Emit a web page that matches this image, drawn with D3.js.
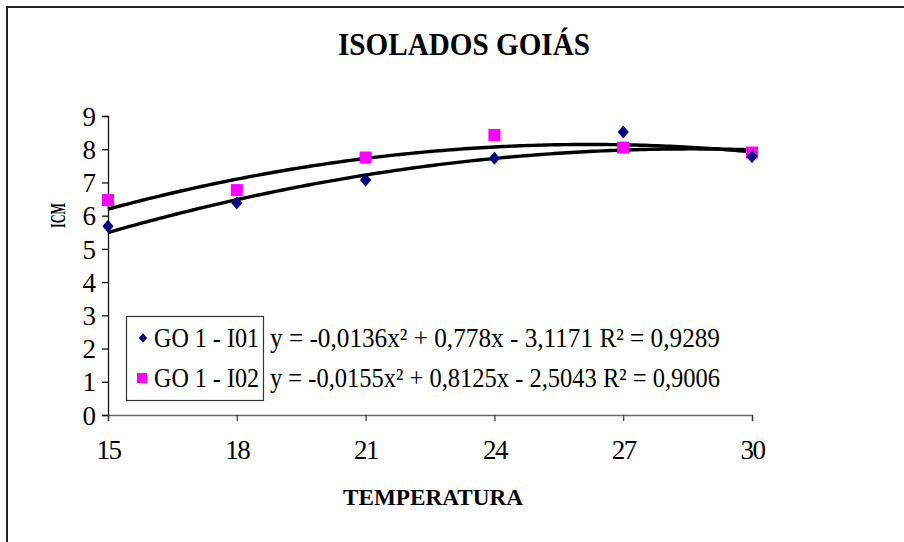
<!DOCTYPE html>
<html>
<head>
<meta charset="utf-8">
<script src="https://cdn.jsdelivr.net/npm/d3@7"></script>
<style>
  html, body { margin: 0; padding: 0; background: #fff; }
  svg text { font-family: "Liberation Serif", "Times New Roman", serif; fill: #000; }
</style>
</head>
<body>
<svg id="chart" width="904" height="542"></svg>
<script>
// Temperatures tested (x values)
const temperatures = [15, 18, 21, 24, 27, 30];
// ICM values per isolate
const seriesNames = ["GO 1 - I01", "GO 1 - I02"];
const icmI01 = [5.68, 6.38, 7.07, 7.73, 8.52, 7.78];
const icmI02 = [6.47, 6.77, 7.75, 8.43, 8.05, 7.9];
// Polynomial trend coefficients [a, b, c] for y = a x² + b x + c, and R²
const trendI01 = [-0.0136, 0.778, -3.1171];
const trendI02 = [-0.0155, 0.8125, -2.5043];
const r2Values = ["0,9289", "0,9006"];
const yTicks = [0, 1, 2, 3, 4, 5, 6, 7, 8, 9];

const svg = d3.select("#chart");

// outer frame (top and left edges visible)
svg.append("path")
  .attr("d", "M7,542 V7 H904")
  .attr("fill", "none").attr("stroke", "#222").attr("stroke-width", 2);

const plot = { left: 108, right: 752, top: 116, bottom: 415 };
const x = d3.scaleLinear().domain([15, 30]).range([plot.left, plot.right]);
const y = d3.scaleLinear().domain([0, 9]).range([plot.bottom, plot.top]);

// Title
svg.append("text")
  .attr("x", 338).attr("y", 55)
  .style("font-size", "31px").style("font-weight", "bold")
  .attr("textLength", 252).attr("lengthAdjust", "spacingAndGlyphs")
  .text("ISOLADOS GOIÁS");

// Y axis
const yAxis = svg.append("g")
  .attr("transform", `translate(${plot.left},0)`)
  .call(d3.axisLeft(y).tickValues(yTicks).tickSize(6).tickPadding(6).tickFormat(d3.format("d")));
yAxis.select(".domain").attr("stroke", "#111").attr("stroke-width", 1.3);
yAxis.selectAll(".tick line").attr("stroke", "#111").attr("stroke-width", 1.3);
yAxis.selectAll(".tick text")
  .style("font-size", "27px").style("font-family", "Liberation Serif").attr("fill", "#000")
  .attr("dy", "0.34em");

// X axis
const xAxis = svg.append("g")
  .attr("transform", `translate(0,${plot.bottom})`)
  .call(d3.axisBottom(x).tickValues(temperatures).tickSize(6).tickPadding(14).tickFormat(d3.format("d")));
xAxis.select(".domain").attr("stroke", "#666").attr("stroke-width", 1.5);
xAxis.selectAll(".tick line").attr("stroke", "#333").attr("stroke-width", 1.2);
xAxis.selectAll(".tick text")
  .style("font-size", "27px").style("font-family", "Liberation Serif").attr("fill", "#000")
  .style("letter-spacing", "-1.5px")
  .attr("dy", "0.9em");

// Axis titles
svg.append("text")
  .attr("x", 343).attr("y", 505)
  .style("font-size", "24px").style("font-weight", "bold")
  .attr("textLength", 180).attr("lengthAdjust", "spacingAndGlyphs")
  .text("TEMPERATURA");

svg.append("text")
  .attr("transform", "translate(65,228) rotate(-90)")
  .style("font-size", "20px").style("font-weight", "bold")
  .attr("textLength", 25).attr("lengthAdjust", "spacingAndGlyphs")
  .text("ICM");

// Trend curves
const poly = c => t => c[0] * t * t + c[1] * t + c[2];
const xs = d3.range(15, 30.001, 0.1);
const line = d3.line().x(d => x(d[0])).y(d => y(d[1]));
[trendI02, trendI01].forEach(c => {
  const f = poly(c);
  svg.append("path")
    .datum(xs.map(t => [t, f(t)]))
    .attr("d", line)
    .attr("fill", "none").attr("stroke", "#000").attr("stroke-width", 3.4);
});

// Markers
const diamond = d3.symbol().type(d3.symbolDiamond2).size(110);
svg.append("g").selectAll("rect")
  .data(temperatures.map((t, i) => [t, icmI02[i]]))
  .join("rect")
  .attr("x", d => x(d[0]) - 6).attr("y", d => y(d[1]) - 6)
  .attr("width", 12).attr("height", 12)
  .attr("fill", "#ff00ff");
svg.append("g").selectAll("path")
  .data(temperatures.map((t, i) => [t, icmI01[i]]))
  .join("path")
  .attr("d", diamond)
  .attr("transform", d => `translate(${x(d[0])},${y(d[1])}) scale(0.85,1)`)
  .attr("fill", "#000080");

// Legend box
svg.append("rect")
  .attr("x", 126.5).attr("y", 316.5).attr("width", 137).attr("height", 84)
  .attr("fill", "#fff").attr("stroke", "#333").attr("stroke-width", 1.2);

const legendRows = [
  { name: seriesNames[0], coef: trendI01, r2: r2Values[0], cy: 338 },
  { name: seriesNames[1], coef: trendI02, r2: r2Values[1], cy: 378 }
];
const fmt = v => String(Math.abs(v)).replace(".", ",");

legendRows.forEach((row, i) => {
  if (i === 0) {
    svg.append("path")
      .attr("d", d3.symbol().type(d3.symbolDiamond2).size(60))
      .attr("transform", `translate(143,${row.cy}) scale(0.85,1)`)
      .attr("fill", "#000080");
  } else {
    svg.append("rect")
      .attr("x", 137).attr("y", row.cy - 5).attr("width", 10).attr("height", 10)
      .attr("fill", "#ff00ff");
  }
  svg.append("text")
    .attr("x", 154).attr("y", row.cy + 9)
    .style("font-size", "27px")
    .attr("textLength", 105).attr("lengthAdjust", "spacingAndGlyphs")
    .text(row.name);

  // trend equation with R² beside the legend entry
  const a = row.coef[0], b = row.coef[1], c = row.coef[2];
  svg.append("text")
    .attr("x", 270).attr("y", row.cy + 9)
    .style("font-size", "27px")
    .attr("textLength", 450).attr("lengthAdjust", "spacingAndGlyphs")
    .text(`y = ${a < 0 ? "-" : ""}${fmt(a)}x² + ${fmt(b)}x ${c < 0 ? "-" : "+"} ${fmt(c)} R² = ${row.r2}`);
});
</script>
</body>
</html>
